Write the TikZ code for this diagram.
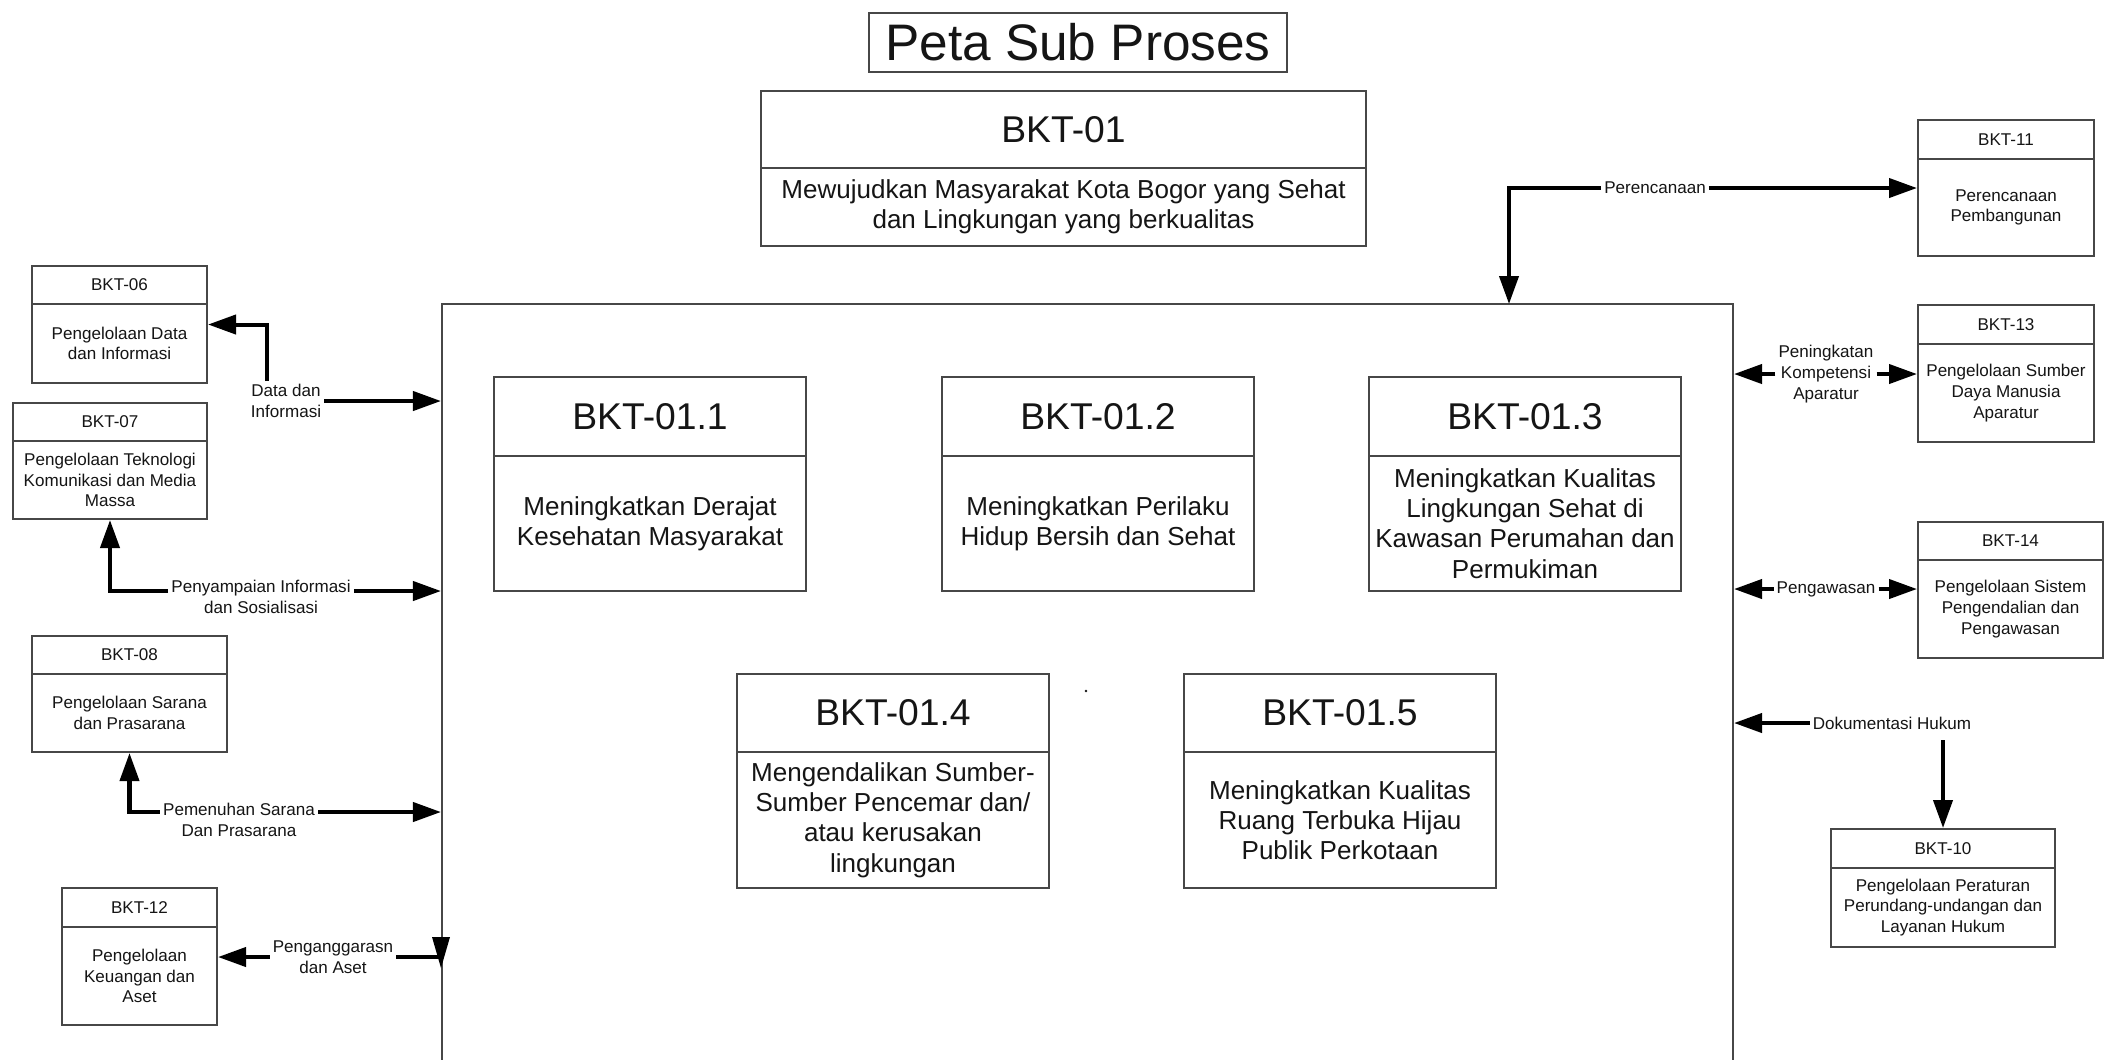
\documentclass[tikz,border=0pt]{standalone}
\usepackage{fontspec}
\setmainfont{Liberation Sans}
\usetikzlibrary{arrows.meta,fit}
\definecolor{boxgray}{HTML}{474747}
\definecolor{ink}{HTML}{151515}
\tikzset{
  boxline/.style={draw=boxgray, line width=0.57pt},
  smallfont/.style={font=\fontsize{4.85}{5.9}\selectfont},
  kbhead/.style={smallfont, text=ink, inner sep=0pt},
  kbbody/.style={smallfont, text=ink, align=center, inner sep=0pt},
  lbl/.style={smallfont, text=ink, align=center, inner sep=0.025cm},
  flow/.style={line width=1.15pt, -{Triangle[length=0.28cm,width=0.19cm]}},
  plainflow/.style={line width=1.15pt},
}
% titled box: name, x1, y1, x2, y2, divider y, header, body
\newcommand\kbox[8]{%
  \node[boxline, fit={(#2,#3) (#4,#5)}, inner sep=0pt] (#1) {};
  \draw[boxline] (#2,#6) -- (#4,#6);
  \node[kbhead] (#1-h) at ({(#2+#4)/2},{(#3+#6)/2}) {#7};
  \node[kbbody] (#1-b) at ({(#2+#4)/2},{(#6+#5)/2}) {#8};
}

\begin{document}
\begin{tikzpicture}[x=0.01cm, y=-0.01cm]
\useasboundingbox (0,0) rectangle (2106,1059);
\fill[white] (0,0) rectangle (2106,1059);

% heading
\node[boxline, minimum width=4.18cm, minimum height=0.59cm, inner sep=0pt,
      font=\fontsize{14.6}{17}\selectfont, text=ink] (title) at (1078,42.5) {Peta Sub Proses};

% large boxes
\begin{scope}[kbhead/.style={font=\fontsize{10.6}{12}\selectfont, text=ink, inner sep=0pt},
              kbbody/.style={font=\fontsize{7.4}{8.6}\selectfont, text=ink, align=center, inner sep=0pt}]
\kbox{b01}{761}{91}{1366}{246}{168}{BKT-01}{Mewujudkan Masyarakat Kota Bogor yang Sehat\\dan Lingkungan yang berkualitas}
\node[boxline, fit={(442,304) (1733,1090)}, inner sep=0pt] (main) {};
\kbox{b011}{494}{377}{806}{591}{456}{BKT-01.1}{Meningkatkan Derajat\\Kesehatan Masyarakat}
\kbox{b012}{942}{377}{1254}{591}{456}{BKT-01.2}{Meningkatkan Perilaku\\Hidup Bersih dan Sehat}
\kbox{b013}{1369}{377}{1681}{591}{456}{BKT-01.3}{Meningkatkan Kualitas\\Lingkungan Sehat di\\Kawasan Perumahan dan\\Permukiman}
\kbox{b014}{737}{674}{1049}{888}{752}{BKT-01.4}{Mengendalikan Sumber-\\Sumber Pencemar dan/\\atau kerusakan\\lingkungan}
\kbox{b015}{1184}{674}{1496}{888}{752}{BKT-01.5}{Meningkatkan Kualitas\\Ruang Terbuka Hijau\\Publik Perkotaan}
\end{scope}
\fill[ink] (1086,691) circle (0.014cm);

% left column
\kbox{b06}{32}{266}{207}{383}{304}{BKT-06}{Pengelolaan Data\\dan Informasi}
\kbox{b07}{13}{403}{207}{519}{441}{BKT-07}{Pengelolaan Teknologi\\Komunikasi dan Media\\Massa}
\kbox{b08}{32}{636}{227}{752}{674}{BKT-08}{Pengelolaan Sarana\\dan Prasarana}
\kbox{b12}{62}{888}{217}{1025}{927}{BKT-12}{Pengelolaan\\Keuangan dan\\Aset}

% right column
\kbox{b11}{1918}{120}{2094}{256}{159}{BKT-11}{Perencanaan\\Pembangunan}
\kbox{b13}{1918}{305}{2094}{442}{344}{BKT-13}{Pengelolaan Sumber\\Daya Manusia\\Aparatur}
\kbox{b14}{1918}{522}{2103}{658}{560}{BKT-14}{Pengelolaan Sistem\\Pengendalian dan\\Pengawasan}
\kbox{b10}{1831}{829}{2055}{947}{868}{BKT-10}{Pengelolaan Peraturan\\Perundang-undangan dan\\Layanan Hukum}

% flow labels
\node[lbl] (lblA) at (286,401) {Data dan\\Informasi};
\node[lbl] (lblB) at (261,597) {Penyampaian Informasi\\dan Sosialisasi};
\node[lbl] (lblC) at (239,820) {Pemenuhan Sarana\\Dan Prasarana};
\node[lbl] (lblD) at (333,957) {Penganggarasn\\dan Aset};
\node[lbl] (lblP) at (1655,188) {Perencanaan};
\node[lbl] (lblK) at (1826,374) {Peningkatan\\Kompetensi\\Aparatur};
\node[lbl] (lblW) at (1826,589) {Pengawasan};
\node[lbl] (lblH) at (1892,723) {Dokumentasi Hukum};

% attachment points
\coordinate (aUp) at ([xshift=-0.19cm]lblA.north);
\coordinate (bL) at ([yshift=0.06cm]lblB.west);
\coordinate (bR) at ([yshift=0.06cm]lblB.east);
\coordinate (cL) at ([yshift=0.08cm]lblC.west);
\coordinate (cR) at ([yshift=0.08cm]lblC.east);
\coordinate (pIn) at (1509,304);
\coordinate (hS) at ([yshift=-0.08cm]lblH.south);

% left connectors
\draw[flow] (aUp) |- (b06.east);
\draw[flow] (lblA.east) -- (lblA.east -| main.west);
\draw[flow] (bL) -| (b07.south);
\draw[flow] (bR) -- (bR -| main.west);
\draw[flow] (cL) -| (b08.south);
\draw[flow] (cR) -- (cR -| main.west);
\draw[flow] (lblD.west) -- (lblD.west -| b12.east);
\draw[plainflow] (lblD.east) -- (lblD.east -| main.west) coordinate (dEnd);
\fill[black] ([shift={(-9,-20)}]dEnd) -- ([shift={(9,-20)}]dEnd) -- ([shift={(0,11)}]dEnd) -- cycle;

% right connectors
\draw[flow] (lblP.west) -| (pIn);
\draw[flow] (lblP.east) -- (lblP.east -| b11.west);
\draw[flow] (lblK.west) -- (lblK.west -| main.east);
\draw[flow] (lblK.east) -- (lblK.east -| b13.west);
\draw[flow] (lblW.west) -- (lblW.west -| main.east);
\draw[flow] (lblW.east) -- (lblW.east -| b14.west);
\draw[flow] (lblH.west) -- (lblH.west -| main.east);
\draw[flow] (hS -| b10.north) -- (b10.north);
\end{tikzpicture}
\end{document}
